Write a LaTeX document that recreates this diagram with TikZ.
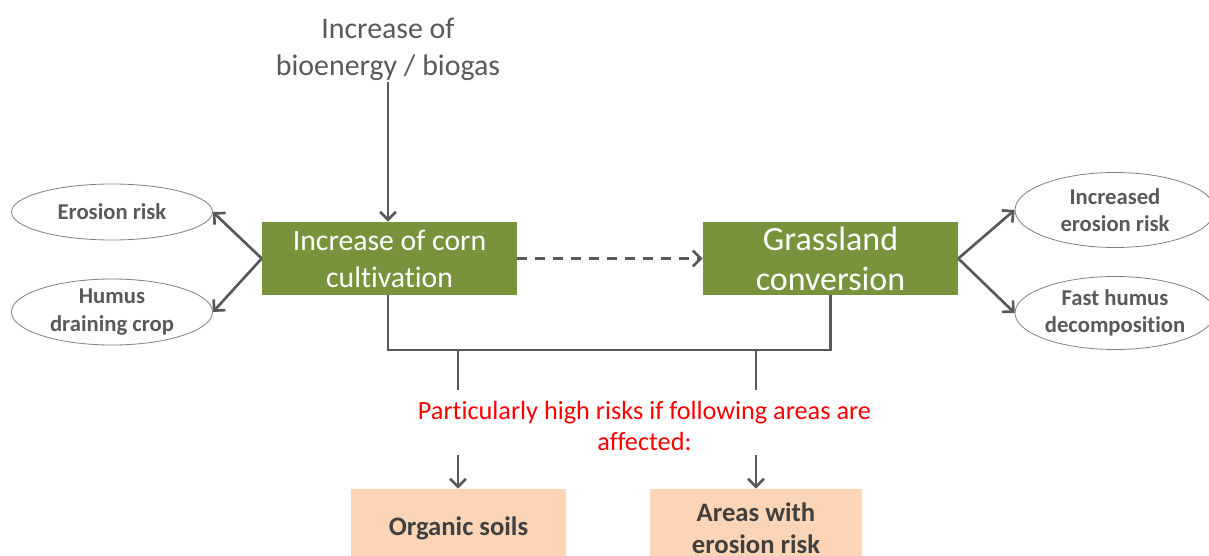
\documentclass[tikz,border=0pt]{standalone}
\usepackage{fontspec}
\setmainfont{Carlito}[Ligatures=NoCommon]
\usetikzlibrary{arrows.meta,shapes.geometric}
\definecolor{linegray}{HTML}{595959}
\definecolor{textgray}{HTML}{595959}
\definecolor{darktext}{HTML}{404040}
\definecolor{ovalgray}{HTML}{7F7F7F}
\definecolor{boxgreen}{HTML}{77933C}
\definecolor{peach}{HTML}{FBD5B5}
\definecolor{alertred}{HTML}{FF0000}
\tikzset{
  greenbox/.style={fill=boxgreen, text=white, minimum width=191.25pt, minimum height=54.75pt, align=center, inner sep=0pt},
  oval/.style={ellipse, draw=ovalgray, line width=0.6pt, text=textgray, font=\bfseries\fontsize{17}{20.5}\selectfont, align=center, inner sep=0pt},
  peachbox/.style={fill=peach, text=darktext, font=\bfseries\fontsize{20}{24}\selectfont, align=center, minimum height=58.5pt, inner sep=0pt},
  conn/.style={draw=linegray, line width=2pt},
  arr/.style={conn, -{Straight Barb[length=6pt,width=12pt]}},
}
\begin{document}
\begin{tikzpicture}[x=0.75pt,y=-0.75pt]
\useasboundingbox (0,0) rectangle (1209,556);
\clip (0,0) rectangle (1209,556);
% source text
\node[text=textgray, align=center, font=\fontsize{22.4}{27.75}\selectfont, inner sep=1pt] (src) at (388,49) {Increase of\\bioenergy / biogas};
% green boxes
\node[greenbox, font=\fontsize{22.3}{27.75}\selectfont] (corn) at (389.5,258.5) {Increase of corn\\cultivation};
\node[greenbox, font=\fontsize{25.5}{30}\selectfont] (grass) at (830.5,258.5) {Grassland\\conversion};
% ovals
\node[oval, minimum width=150.75pt, minimum height=42pt] (ero) at (112,212) {Erosion risk};
\node[oval, minimum width=150.75pt, minimum height=49.5pt] (hum) at (112,312) {Humus\\draining crop};
\node[oval, minimum width=150pt, minimum height=56.25pt] (iero) at (1115,210) {Increased\\erosion risk};
\node[oval, minimum width=150pt, minimum height=54.75pt] (fhum) at (1115,313) {Fast humus\\decomposition};
% peach boxes
\node[peachbox, minimum width=161.25pt] (org) at (458.5,528) {Organic soils};
\node[peachbox, minimum width=159pt] (areas) at (756,528) {Areas with\\erosion risk};
% red note
\node[text=alertred, align=center, font=\fontsize{19.7}{23.25}\selectfont] (note) at (644.5,425.5) {Particularly high risks if following areas are\\affected:};
% connectors
\draw[arr] (src.south) -- (src.south |- corn.north);
\draw[arr, dash pattern=on 7.5pt off 6pt] (corn.east) -- (grass.west);
\draw[arr] (corn.west) -- (ero.east);
\draw[arr] (corn.west) -- (hum.east);
\draw[arr] (grass.east) -- (iero.west);
\draw[arr] (grass.east) -- (fhum.west);
\coordinate (j1) at (388,350);
\coordinate (d1) at (458,350);
\coordinate (d2) at (756,350);
\coordinate (e1) at (458,390);
\coordinate (e2) at (756,390);
\coordinate (s1) at (458,455);
\coordinate (s2) at (756,455);
\draw[conn, line join=miter] (corn.south -| j1) -- (j1) -| (grass.south);
\draw[conn] (d1) -- (e1);
\draw[conn] (d2) -- (e2);
\draw[arr] (s1) -- (s1 |- org.north);
\draw[arr] (s2) -- (s2 |- areas.north);
\end{tikzpicture}
\end{document}
